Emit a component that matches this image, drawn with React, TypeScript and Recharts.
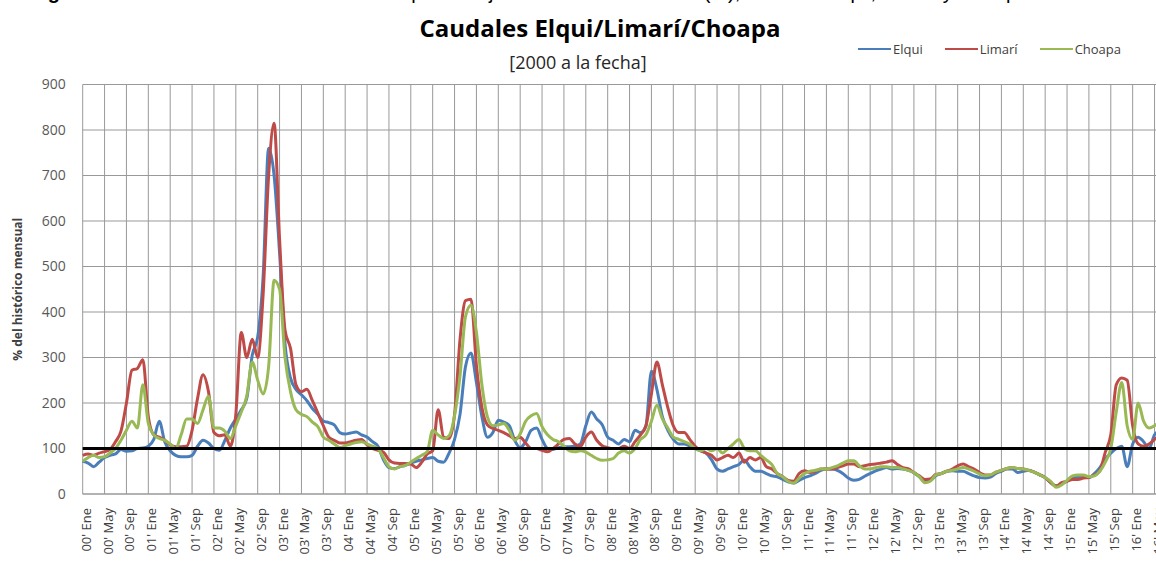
import { LineChart, Line, XAxis, YAxis, CartesianGrid, ReferenceLine, Legend } from 'recharts'

const FONT = '"Open Sans", "Noto Sans", sans-serif'

const MESES = ['Ene', 'Feb', 'Mar', 'Abr', 'May', 'Jun', 'Jul', 'Ago', 'Sep', 'Oct', 'Nov', 'Dic']
const ANIOS = ['00', '01', '02', '03', '04', '05', '06', '07', '08', '09', '10', '11', '12', '13', '14', '15', '16']
const SERIES = ['Elqui', 'Limarí', 'Choapa']

// % del histórico mensual, ene-2000 a jun-2016 (una fila por año)
const ELQUI = [
  72, 68, 60, 70, 80, 85, 88, 98, 94, 95, 100, 101,
  105, 120, 160, 115, 95, 85, 82, 82, 85, 105, 118, 112,
  100, 96, 118, 145, 165, 185, 210, 305, 345, 480, 760, 700,
  530, 330, 255, 230, 218, 205, 188, 175, 160, 157, 152, 135,
  132, 134, 136, 130, 125, 115, 105, 75, 58, 56, 60, 63,
  68, 72, 75, 78, 80, 72, 70, 90, 120, 175, 280, 310,
  245, 170, 125, 135, 162, 158, 150, 118, 102, 115, 140, 145,
  120, 100, 98, 102, 104, 104, 105, 110, 150, 180, 165, 152,
  125, 118, 110, 120, 115, 140, 135, 150, 270, 230, 170, 140,
  120, 110, 110, 105, 100, 95, 90, 75, 55, 50, 55, 60,
  65, 75, 60, 50, 50, 45, 40, 38, 32, 27, 24, 30,
  36, 40, 45, 52, 55, 55, 52, 45, 35, 30, 32, 39,
  45, 51, 55, 58, 55, 56, 55, 52, 47, 38, 28, 30,
  40, 45, 50, 51, 50, 50, 45, 40, 36, 35, 37, 45,
  50, 55, 55, 47, 50, 52, 48, 42, 36, 25, 18, 22,
  28, 35, 38, 38, 36, 45, 58, 77, 90, 100, 105, 60,
  110, 125, 115, 100, 130, 140,
]

const LIMARI = [
  85, 88, 85, 90, 93, 98, 115, 138, 200, 272, 276, 295,
  170, 130, 125, 118, 108, 104, 104, 105, 140, 210, 262, 225,
  135, 128, 130, 105, 175, 355, 300, 340, 300, 440, 700, 815,
  560, 360, 320, 240, 225, 230, 205, 178, 150, 125, 118, 112,
  112, 115, 118, 120, 108, 100, 96, 92, 75, 68, 67, 67,
  66, 58, 70, 88, 95, 185, 125, 122, 175, 340, 425, 428,
  282, 190, 152, 144, 140, 135, 128, 122, 125, 112, 100, 100,
  96, 93, 100, 110, 120, 122, 110, 105, 125, 136, 118, 106,
  102, 100, 100, 105, 100, 115, 130, 150, 220, 290, 240, 190,
  150, 135, 135, 120, 105, 95, 90, 85, 75, 80, 85, 80,
  90, 70, 80, 75, 80, 60, 55, 45, 38, 30, 28, 45,
  51, 47, 50, 55, 55, 55, 58, 62, 66, 66, 60, 62,
  65, 66, 68, 70, 73, 65, 58, 55, 47, 40, 32, 33,
  43, 45, 50, 55, 62, 66, 60, 55, 47, 42, 42, 48,
  52, 56, 58, 56, 55, 52, 48, 42, 36, 25, 17, 25,
  28, 32, 32, 35, 36, 42, 51, 92, 130, 240, 255, 250,
  150, 110, 105, 110, 120, 130,
]

const CHOAPA = [
  72, 80, 85, 80, 82, 90, 100, 118, 140, 160, 145, 240,
  155, 130, 122, 118, 110, 100, 130, 165, 165, 155, 185, 215,
  145, 145, 138, 122, 150, 180, 215, 290, 250, 220, 280, 470,
  450, 300, 225, 185, 175, 170, 158, 148, 125, 118, 110, 102,
  106, 110, 113, 115, 110, 105, 100, 80, 60, 55, 60, 63,
  70, 78, 85, 93, 140, 130, 122, 128, 172, 260, 390, 415,
  355, 240, 170, 150, 152, 155, 140, 118, 132, 160, 172, 177,
  148, 130, 120, 115, 105, 95, 93, 95, 92, 85, 78, 74,
  75, 78, 90, 95, 90, 100, 120, 130, 160, 195, 165, 145,
  125, 120, 115, 110, 100, 95, 100, 95, 100, 90, 100, 110,
  120, 100, 95, 95, 85, 75, 65, 45, 38, 28, 24, 35,
  45, 50, 52, 55, 55, 58, 62, 68, 73, 73, 62, 55,
  55, 58, 60, 60, 58, 58, 55, 52, 47, 38, 25, 28,
  42, 45, 50, 52, 55, 58, 55, 50, 44, 40, 42, 48,
  52, 56, 58, 56, 55, 52, 48, 42, 36, 28, 15, 20,
  30, 40, 42, 42, 38, 40, 50, 70, 100, 180, 245, 150,
  120, 200, 160, 145, 150, 160,
]

const Y_TICKS = [0, 100, 200, 300, 400, 500, 600, 700, 800, 900]

const MES_LABELS = ELQUI.map((_, i) => `${ANIOS[Math.floor(i / 12)]}' ${MESES[i % 12]}`)
// etiquetas cada 4 meses (Ene, May, Sep)
const X_TICKS = MES_LABELS.filter((_, i) => i % 4 === 0)

const data = MES_LABELS.map((mes, i) => ({
  mes,
  elqui: ELQUI[i],
  limari: LIMARI[i],
  choapa: CHOAPA[i],
}))

function MesTick(props: { x?: number; y?: number; payload?: { value: string } }) {
  const { x = 0, y = 0, payload } = props
  return (
    <text
      x={x}
      y={y}
      transform={`rotate(-90, ${x}, ${y})`}
      dx={-6}
      dy={8}
      textAnchor="end"
      fill="#404040"
      fontSize={13}
      fontFamily={FONT}
    >
      {payload?.value}
    </text>
  )
}

function Leyenda(props: { payload?: Array<{ value: string; color?: string }> }) {
  const items = [...(props.payload ?? [])].sort(
    (a, b) => SERIES.indexOf(a.value) - SERIES.indexOf(b.value),
  )
  return (
    <div style={{ display: 'flex', fontFamily: FONT, fontSize: 13, color: '#404040' }}>
      {items.map((entry) => (
        <span key={entry.value} style={{ display: 'flex', alignItems: 'center', marginRight: 22 }}>
          <svg width={33} height={4}>
            <line x1={0} y1={2} x2={33} y2={2} stroke={entry.color} strokeWidth={2} />
          </svg>
          <span style={{ marginLeft: 2 }}>{entry.value}</span>
        </span>
      ))}
    </div>
  )
}

export default function App() {
  return (
    <div
      style={{
        position: 'absolute',
        left: 0,
        top: 0,
        width: 1156,
        height: 563,
        overflow: 'hidden',
        background: '#fff',
      }}
    >
      <div
        style={{
          position: 'absolute',
          left: 30,
          top: -18,
          whiteSpace: 'nowrap',
          fontFamily: '"Liberation Sans", Arial, sans-serif',
          fontSize: 20,
          lineHeight: 1,
          color: '#000',
        }}
      >
        <b>Figura 9:</b> Evolución de los caudales como porcentaje del histórico mensual (%), cuencas Elqui, Limarí y Choapa
      </div>
      <LineChart
        width={1172}
        height={563}
        data={data}
        margin={{ top: 84.5, right: 12, bottom: 0, left: 0 }}
        style={{ position: 'absolute', left: 0, top: 0 }}
      >
        <CartesianGrid stroke="#999999" strokeWidth={1} />
        <XAxis
          dataKey="mes"
          ticks={X_TICKS}
          interval={0}
          height={69}
          tickLine={false}
          axisLine={{ stroke: '#999999' }}
          tick={<MesTick />}
        />
        <YAxis
          domain={[0, 900]}
          ticks={Y_TICKS}
          width={82.7}
          tickLine={false}
          axisLine={false}
          tickMargin={11}
          tick={{ fill: '#595959', fontSize: 14, fontFamily: FONT }}
          label={{
            value: '% del histórico mensual',
            angle: -90,
            position: 'insideLeft',
            offset: 18,
            style: { textAnchor: 'middle', fontSize: 12, fontWeight: 700, fill: '#404040', fontFamily: FONT },
          }}
        />
        <Legend
          layout="horizontal"
          verticalAlign="middle"
          align="center"
          content={<Leyenda />}
          wrapperStyle={{ top: 40, left: 858, width: 320, height: 18 }}
        />
        <Line type="monotone" dataKey="elqui" name="Elqui" stroke="#4A7EBB" strokeWidth={3} dot={false} isAnimationActive={false} />
        <Line type="monotone" dataKey="limari" name="Limarí" stroke="#BE4B48" strokeWidth={3} dot={false} isAnimationActive={false} />
        <Line type="monotone" dataKey="choapa" name="Choapa" stroke="#98B954" strokeWidth={3} dot={false} isAnimationActive={false} />
        <ReferenceLine y={100} stroke="#000" strokeWidth={3} ifOverflow="extendDomain" />
      </LineChart>
      <div
        style={{
          position: 'absolute',
          left: 600,
          top: 15.5,
          transform: 'translateX(-50%)',
          whiteSpace: 'nowrap',
          fontFamily: FONT,
          fontWeight: 700,
          fontSize: 24,
          lineHeight: 1,
          color: '#000',
        }}
      >
        Caudales Elqui/Limarí/Choapa
      </div>
      <div
        style={{
          position: 'absolute',
          left: 578,
          top: 53,
          transform: 'translateX(-50%)',
          whiteSpace: 'nowrap',
          fontFamily: FONT,
          fontSize: 18,
          lineHeight: 1,
          color: '#262626',
        }}
      >
        [2000 a la fecha]
      </div>
    </div>
  )
}
